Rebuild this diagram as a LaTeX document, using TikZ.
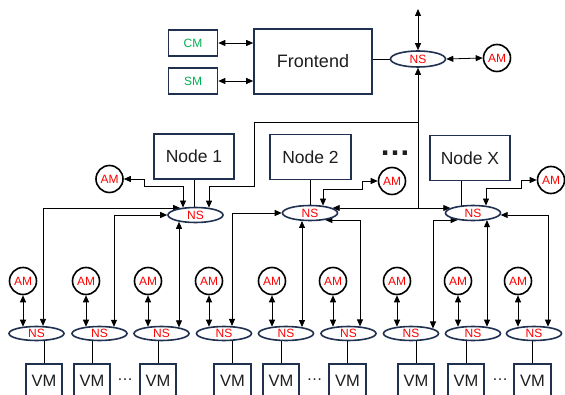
\documentclass[tikz,border=0pt]{standalone}
\usepackage{fontspec}
\setmainfont{Liberation Sans}
\usetikzlibrary{shapes.geometric,arrows.meta,calc,backgrounds}
\definecolor{navy}{RGB}{31,48,80}
\definecolor{nsred}{RGB}{255,0,0}
\definecolor{cmgreen}{RGB}{0,176,80}
\definecolor{txt}{RGB}{30,30,30}
\begin{document}
\begin{tikzpicture}[x=1pt,y=-1pt,
  box/.style={draw=navy,line width=1.6pt,fill=white,inner sep=0pt,text=txt},
  smallbox/.style={box,minimum width=49pt,minimum height=26pt,text=cmgreen,font=\fontsize{12}{12}\selectfont},
  nodebox/.style={box,minimum width=80.5pt,minimum height=45pt,font=\fontsize{17.5}{17.5}\selectfont},
  vmbox/.style={box,minimum width=36.5pt,minimum height=34pt,font=\fontsize{16.5}{16.5}\selectfont},
  nsnode/.style={ellipse,draw=navy,line width=1.6pt,fill=white,inner sep=0pt,minimum width=55pt,minimum height=15pt,text=nsred,font=\fontsize{12}{12}\selectfont},
  amnode/.style={circle,draw=black,line width=1.6pt,fill=white,inner sep=0pt,minimum size=27pt,text=nsred,font=\fontsize{12}{12}\selectfont},
  conn/.style={line width=0.8pt,draw=black},
  arr/.style={conn,-{Triangle[length=7pt,width=6pt]}},
  darr/.style={conn,{Triangle[length=7pt,width=6pt]}-{Triangle[length=7pt,width=6pt]}},
  dotsbig/.style={anchor=base,inner sep=0pt,text=txt,font=\bfseries\fontsize{31}{31}\selectfont},
  dotssmall/.style={anchor=base,inner sep=0pt,text=txt,font=\fontsize{16}{16}\selectfont}
]
\useasboundingbox (0,0) rectangle (565,395);

% top level
\node[smallbox] (cm) at (193,43) {CM};
\node[smallbox] (sm) at (193,81) {SM};
\node[box,minimum width=118pt,minimum height=65pt,font=\fontsize{18}{18}\selectfont] (fe) at (313,61.5) {Frontend};
\node[nsnode,minimum height=16pt] (tns) at (418,59) {NS};
\node[amnode] (tam) at (497,58) {AM};
\coordinate (tup) at (418,9);

% node level
\node[nodebox] (n1) at (194,156.5) {Node 1};
\node[nodebox] (n2) at (310.5,157) {Node 2};
\node[nodebox] (nX) at (470,158) {Node X};
\node[dotsbig] (dtop) at (395,155.5) {…};
\node[nsnode] (ns1) at (195.5,215) {NS};
\node[nsnode] (ns2) at (310,213) {NS};
\node[nsnode] (nsx) at (473,213) {NS};
\node[amnode] (am1) at (109.5,179) {AM};
\node[amnode] (am2) at (392,181) {AM};
\node[amnode] (amx) at (551,180) {AM};

% bottom level
\foreach \i/\bx/\ax/\vx in {1/36.5/23/44, 2/99.5/86/92, 3/161.5/148/158, 4/224/209/232.5, 5/286/272/281, 6/348.5/333/347.5, 7/411/397/416, 8/473/458/466, 9/534/518/532.5}{
  \node[nsnode,minimum height=14pt] (b\i) at (\bx,333.5) {NS};
  \node[amnode] (a\i) at (\ax,281) {AM};
  \node[vmbox] (vm\i) at (\vx,381) {VM};
}
\node[dotssmall] (d1) at (125,380.5) {…};
\node[dotssmall] (d2) at (314.5,380.5) {…};
\node[dotssmall] (d3) at (500,380.5) {…};

\begin{scope}[on background layer]
  % top
  \draw[darr] (cm.east) -- (cm.east -| fe.west);
  \draw[darr] (sm.east) -- (sm.east -| fe.west);
  \draw[conn] (fe.east |- tns.west) -- (tns.west);
  \draw[darr] (tns.east) -- (tam.west);
  \draw[darr] (tup) -- (tns.north);
  \coordinate (j1) at (418,208);
  \coordinate (j2) at (418,122);
  \draw[arr] (j1) -- (tns.south);
  \draw[arr] (j2) -- (254,122) -- (254,186) -- (209,186) -- ($(ns1.center)+(13.5,-7.3)$);
  % node boxes to NS
  \draw[conn] (n1.south) -- (n1.south |- ns1.center);
  \draw[conn] (n2.south) -- (n2.south |- ns2.center);
  \coordinate (nxs) at ($(nX.south)+(-9,0)$);
  \draw[conn] (nxs) -- (nxs |- nsx.center);
  % AM at node level
  \draw[darr] (am1.east) -- (144,179) -- (144,186.5) -- (183,186.5) -- ($(ns1.center)+(-12.5,-7.45)$);
  \draw[darr] ($(ns2.center)+(13,-7.4)$) |- (362,189) |- (am2.west);
  \draw[darr] ($(nsx.center)+(13,-7.4)$) |- (521,188) |- (amx.west);
  % NS2 <-> NSX
  \draw[darr] ($(ns2.center)+(22.7,-5)$) -- ($(nsx.center)+(-22.7,-5)$);
  % node NS to bottom NS
  \draw[darr] ($(ns1.center)+(-15.3,-7)$) -| ($(b1.center)+(6.5,-7.6)$);
  \draw[darr] (ns1.west) -| ($(b2.center)+(14.5,-6.7)$);
  \draw[darr] ($(ns1.center)+(-16.5,6.8)$) -- ($(b3.center)+(17.5,-6.15)$);
  \draw[darr] (ns2.west) -| ($(b4.center)+(8,-7.5)$);
  \draw[darr] ($(ns2.center)+(-8,8)$) -- ($(b5.center)+(16,-6.45)$);
  \draw[darr] ($(ns2.center)+(15.3,7)$) -| ($(b6.center)+(11.5,-7.1)$);
  \draw[darr] ($(nsx.center)+(-15.3,7)$) -| ($(b7.center)+(22,-5)$);
  \draw[darr] ($(nsx.center)+(14,7.2)$) -- ($(b8.center)+(14,-6.8)$);
  \draw[darr] ($(nsx.center)+(27.7,2)$) -| ($(b9.center)+(14,-6.8)$);
  % bottom AM and VM
  \foreach \i/\bx/\ax in {1/36.5/23, 2/99.5/86, 3/161.5/148, 4/224/209, 5/286/272, 6/348.5/333, 7/411/397, 8/473/458, 9/534/518}{
    \draw[darr] (a\i.south) -- ($(b\i.center)+(\ax-\bx,-6.8)$);
    \draw[conn] (vm\i.north) -- (vm\i.north |- b\i.center);
  }
\end{scope}
\end{tikzpicture}
\end{document}
